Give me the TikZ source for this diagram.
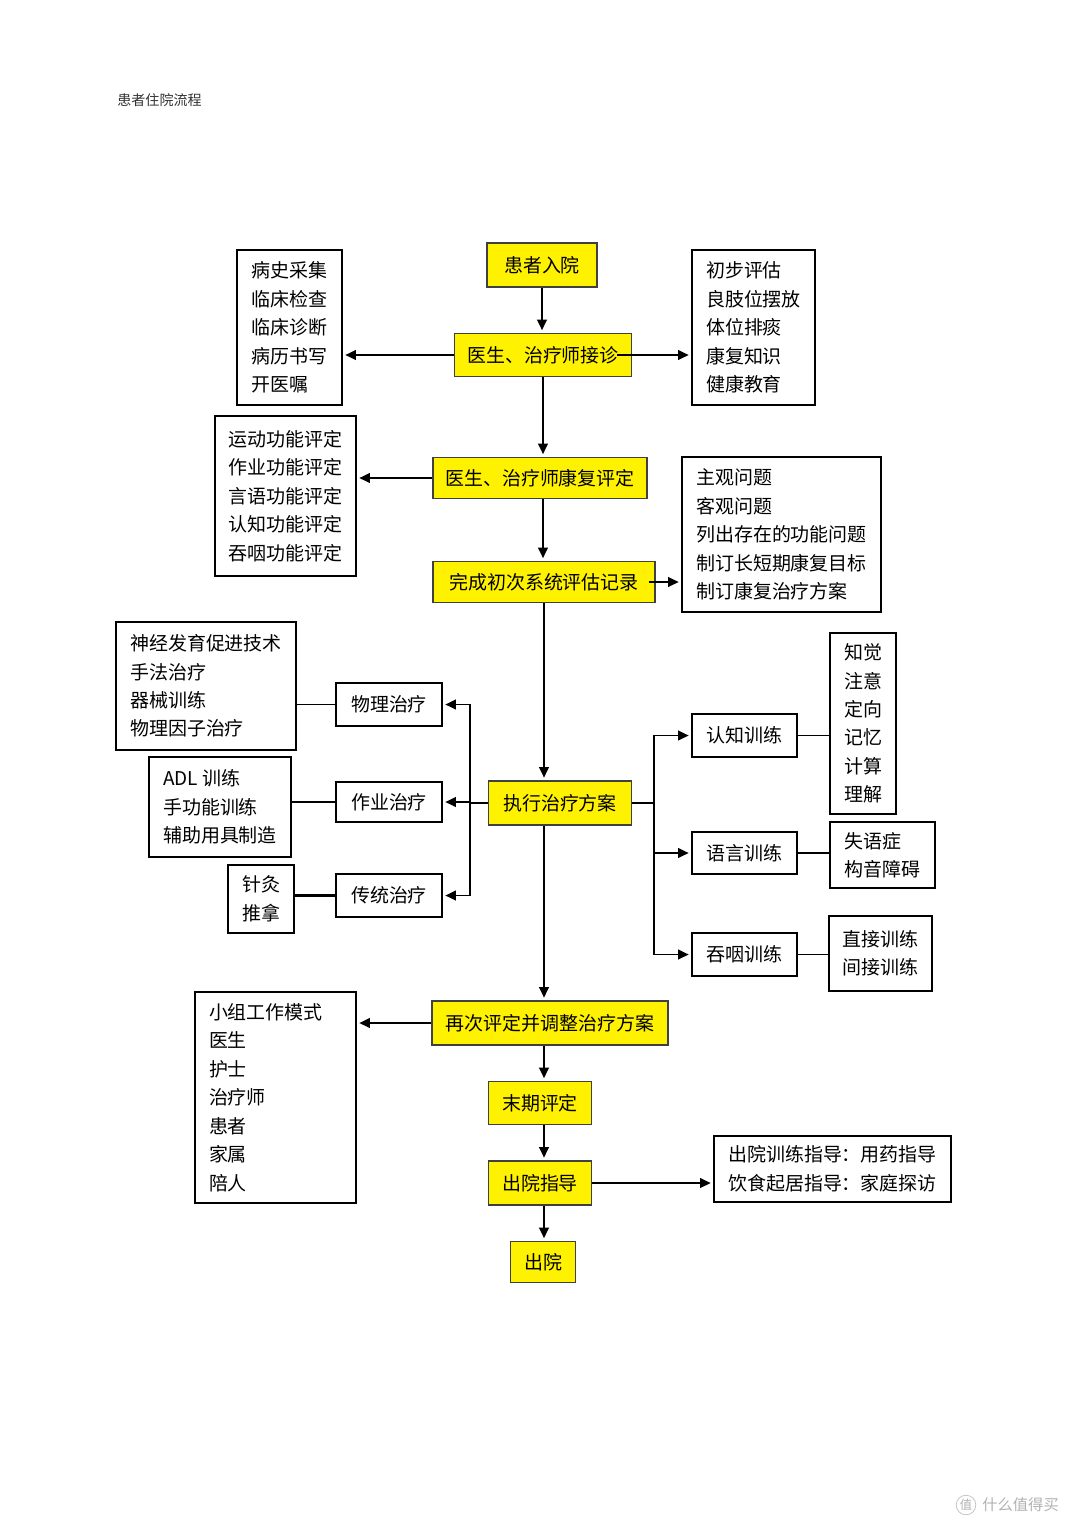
\documentclass[tikz,border=0pt]{standalone}
\usepackage{fontspec}
\setmainfont{Noto Sans CJK SC}
\usetikzlibrary{arrows.meta, positioning, calc}

\begin{document}
\begin{tikzpicture}[
    x=0.02cm, y=-0.02cm,
    every node/.style={font=\fontsize{10.8pt}{16.2pt}\selectfont},
    stage/.style={rectangle, draw=black!75, fill=yellow, line width=0.8pt, inner sep=0pt},
    item/.style={rectangle, draw, fill=white, line width=0.8pt, align=left, inner sep=0pt},
    branch/.style={rectangle, draw, fill=white, line width=0.8pt, inner sep=0pt},
    arrow/.style={-{Triangle[length=6pt, width=5.5pt]}, line width=1.1pt, shorten >=1.5pt},
    link/.style={line width=0.8pt}
]
\fill[white] (0,0) rectangle (1080,1528);

% Title
\node[anchor=west, inner sep=0pt, text=black!80, font=\fontsize{8pt}{10pt}\selectfont] (title) at (117,100) {患者住院流程};

% Main column
\node[stage, minimum width=2.2cm, minimum height=0.88cm] (ruyuan) at (542,265) {患者入院};
\node[stage, minimum width=3.54cm, minimum height=0.86cm] (jiezhen) at (543,355) {医生、治疗师接诊};
\node[stage, minimum width=4.28cm, minimum height=0.82cm] (pingding) at (540,478) {医生、治疗师康复评定};
\node[stage, minimum width=4.44cm, minimum height=0.82cm] (jilu) at (544,582) {完成初次系统评估记录};
\node[stage, minimum width=2.86cm, minimum height=0.88cm] (zhixing) at (560,803) {执行治疗方案};
\node[stage, minimum width=4.72cm, minimum height=0.88cm] (zaici) at (550,1023) {再次评定并调整治疗方案};
\node[stage, minimum width=2.06cm, minimum height=0.86cm] (moqi) at (540,1103) {末期评定};
\node[stage, minimum width=2.06cm, minimum height=0.88cm] (zhidao) at (540,1183) {出院指导};
\node[stage, minimum width=1.3cm, minimum height=0.82cm] (chuyuan) at (543,1262) {出院};

% Side lists
\node[item, minimum width=2.1cm, minimum height=3.1cm] (bingshi) at (289.5,327.5) {病史采集\\临床检查\\临床诊断\\病历书写\\开医嘱};
\node[item, minimum width=2.46cm, minimum height=3.1cm] (chubu) at (753.5,327.5) {初步评估\\良肢位摆放\\体位排痰\\康复知识\\健康教育};
\node[item, minimum width=2.82cm, minimum height=3.2cm] (yundong) at (285.5,496) {运动功能评定\\作业功能评定\\言语功能评定\\认知功能评定\\吞咽功能评定};
\node[item, minimum width=3.98cm, minimum height=3.1cm] (zhuguan) at (781.5,534.5) {主观问题\\客观问题\\列出存在的功能问题\\制订长短期康复目标\\制订康复治疗方案};
\node[item, minimum width=3.6cm, minimum height=2.56cm] (shenjing) at (206,686) {神经发育促进技术\\手法治疗\\器械训练\\物理因子治疗};
\node[item, minimum width=2.84cm, minimum height=2cm] (adl) at (220,807) {ADL 训练\\手功能训练\\辅助用具制造};
\node[item, align=center, minimum width=1.32cm, minimum height=1.36cm] (zhenjiu) at (261,899) {针灸\\推拿};
\node[item, align=center, minimum width=1.32cm, minimum height=3.62cm] (zhijue) at (863,723.5) {知觉\\注意\\定向\\记忆\\计算\\理解};
\node[item, minimum width=2.1cm, minimum height=1.32cm] (shiyu) at (882.5,855) {失语症\\构音障碍};
\node[item, minimum width=2.06cm, minimum height=1.5cm] (zhijie) at (880.5,953.5) {直接训练\\间接训练};
\node[item, text width=2.66cm, inner xsep=0.28cm, minimum height=4.22cm] (xiaozu) at (275.5,1097.5) {小组工作模式\\医生\\护士\\治疗师\\患者\\家属\\陪人};
\node[item, minimum width=4.74cm, minimum height=1.32cm] (zhidaobox) at (832.5,1169) {出院训练指导：用药指导\\饮食起居指导：家庭探访};

% Therapy branches
\node[branch, minimum width=2.12cm, minimum height=0.86cm] (wuli) at (389,704.5) {物理治疗};
\node[branch, minimum width=2.12cm, minimum height=0.8cm] (zuoye) at (389,802) {作业治疗};
\node[branch, minimum width=2.12cm, minimum height=0.86cm] (chuantong) at (389,895.5) {传统治疗};
\node[branch, minimum width=2.1cm, minimum height=0.86cm] (renzhi) at (744.5,735.5) {认知训练};
\node[branch, minimum width=2.1cm, minimum height=0.84cm] (yuyan) at (744.5,853) {语言训练};
\node[branch, minimum width=2.1cm, minimum height=0.86cm] (tunyan) at (744.5,954.5) {吞咽训练};

\coordinate (lbus) at (470,803);
\coordinate (rbus) at (654,803);

% Watermark
\node[circle, draw=black!25, text=black!30, inner sep=0.6pt, font=\fontsize{7pt}{8pt}\selectfont] (zhilogo) at (966,1505) {值};
\node[anchor=west, inner sep=0pt, text=black!30, font=\fontsize{8.7pt}{10pt}\selectfont] (zhimark) at (982,1505) {什么值得买};

% Arrows down the main column
\draw[arrow] (ruyuan.south) -- (ruyuan.south |- jiezhen.north);
\draw[arrow] (jiezhen.south) -- (jiezhen.south |- pingding.north);
\draw[arrow] (pingding.south -| jiezhen.south) -- (jiezhen.south |- jilu.north);
\draw[arrow] (jilu.south) -- (jilu.south |- zhixing.north);
\draw[arrow] (jilu.south |- zhixing.south) -- (jilu.south |- zaici.north);
\draw[arrow] (zaici.south -| jilu.south) -- (jilu.south |- moqi.north);
\draw[arrow] (moqi.south -| jilu.south) -- (jilu.south |- zhidao.north);
\draw[arrow] (zhidao.south -| jilu.south) -- (jilu.south |- chuyuan.north);

% Side arrows
\draw[arrow] (jiezhen.west) -- (jiezhen.west -| bingshi.east);
\draw[arrow] ([xshift=-0.3cm]jiezhen.east) -- (jiezhen.east -| chubu.west);
\draw[arrow] (pingding.west) -- (pingding.west -| yundong.east);
\draw[arrow] ([xshift=-0.14cm]jilu.east) -- (jilu.east -| zhuguan.west);
\draw[arrow] (zaici.west) -- (zaici.west -| xiaozu.east);
\draw[arrow] (zhidao.east) -- (zhidao.east -| zhidaobox.west);

% Branches
\draw[link] (zhixing.west) -- (lbus);
\draw[arrow] (lbus) |- (wuli.east);
\draw[arrow] (lbus) |- (zuoye.east);
\draw[arrow] (lbus) |- (chuantong.east);
\draw[link] (zhixing.east) -- (rbus);
\draw[arrow] (rbus) |- (renzhi.west);
\draw[arrow] (rbus) |- (yuyan.west);
\draw[arrow] (rbus) |- (tunyan.west);

\draw[link] (wuli.west) -- (wuli.west -| shenjing.east);
\draw[link] (zuoye.west) -- (zuoye.west -| adl.east);
\draw[link, line width=1.2pt] (chuantong.west) -- (chuantong.west -| zhenjiu.east);
\draw[link] (renzhi.east) -- (renzhi.east -| zhijue.west);
\draw[link] (yuyan.east) -- (yuyan.east -| shiyu.west);
\draw[link] (tunyan.east) -- (tunyan.east -| zhijie.west);
\end{tikzpicture}
\end{document}
